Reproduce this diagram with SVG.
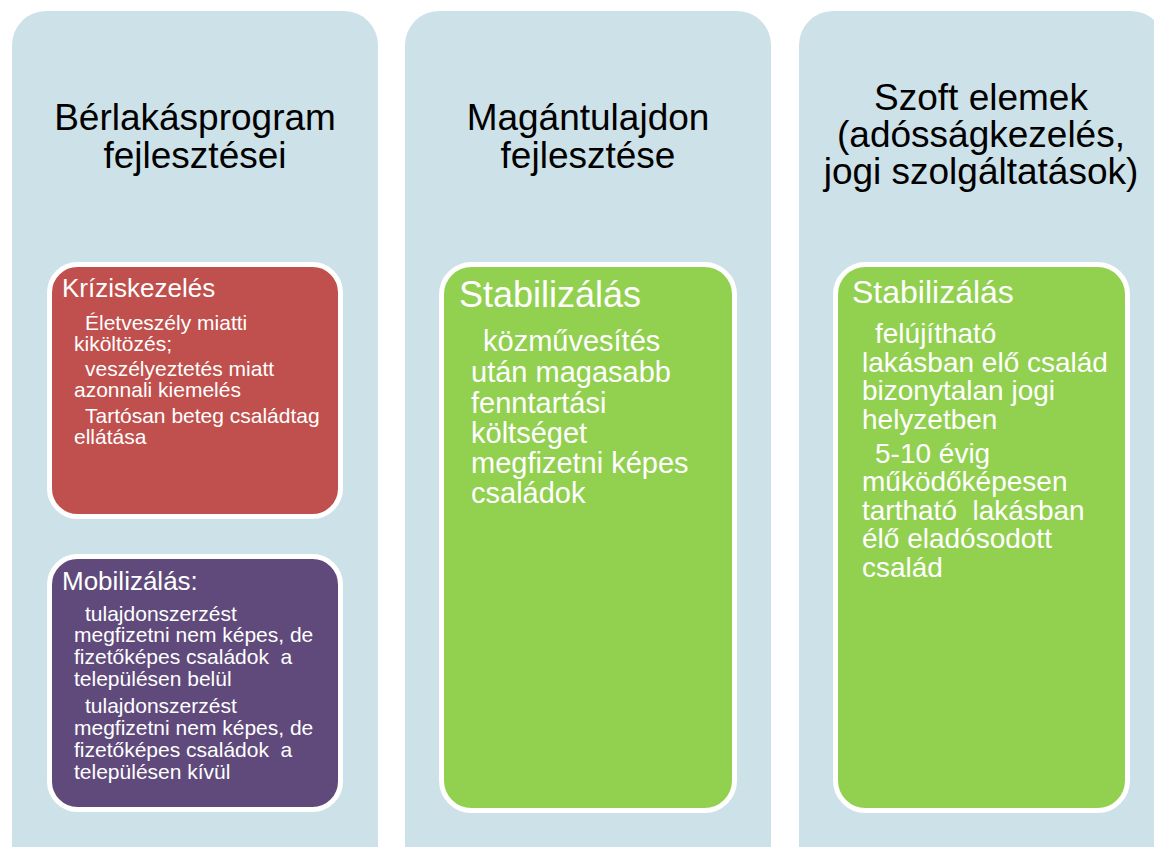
<svg xmlns="http://www.w3.org/2000/svg" width="1154" height="847" viewBox="0 0 1154 847">
<style>
.col{fill:#CDE1E8;}
.sub{stroke:#FFFFFF;stroke-width:5;}
.red{fill:#C0504D;}
.pur{fill:#604A7B;}
.grn{fill:#92D050;}
text{font-family:"Liberation Sans",Arial,sans-serif;}
.title{font-size:37px;fill:#000000;text-anchor:middle;}
.hd1{font-size:26px;fill:#FFFFFF;}
.b1{font-size:21px;fill:#FFFFFF;}
.hd2{font-size:36px;fill:#FFFFFF;}
.b2{font-size:29px;fill:#FFFFFF;}
.hd3{font-size:32px;fill:#FFFFFF;}
.b3{font-size:28px;fill:#FFFFFF;}
</style>
<rect width="1154" height="847" fill="#FFFFFF"/>
<g id="col1">
<rect class="col" x="12" y="11" width="366" height="880" rx="34"/>
<text class="title" x="195" y="130">Bérlakásprogram</text>
<text class="title" x="195" y="168">fejlesztései</text>
</g>
<g id="col2">
<rect class="col" x="405" y="11" width="366" height="880" rx="34"/>
<text class="title" x="588" y="130">Magántulajdon</text>
<text class="title" x="588" y="168">fejlesztése</text>
</g>
<g id="col3">
<rect class="col" x="799" y="11" width="366" height="880" rx="34"/>
<text class="title" x="981" y="110">Szoft elemek</text>
<text class="title" x="981" y="147">(adósságkezelés,</text>
<text class="title" x="981" y="184">jogi szolgáltatások)</text>
</g>
<g id="krizis">
<rect class="sub red" x="49.5" y="264.5" width="291" height="252" rx="28"/>
<text class="hd1" x="62" y="297">Kríziskezelés</text>
<text class="b1" x="85" y="330">Életveszély miatti</text>
<text class="b1" x="74" y="351">kiköltözés;</text>
<text class="b1" x="85" y="376">veszélyeztetés miatt</text>
<text class="b1" x="74" y="397">azonnali kiemelés</text>
<text class="b1" x="85" y="423">Tartósan beteg családtag</text>
<text class="b1" x="74" y="444">ellátása</text>
</g>
<g id="mobil">
<rect class="sub pur" x="49.5" y="556.5" width="291" height="253" rx="28"/>
<text class="hd1" x="62" y="590">Mobilizálás:</text>
<text class="b1" x="85" y="621">tulajdonszerzést</text>
<text class="b1" x="74" y="642">megfizetni nem képes, de</text>
<text class="b1" x="74" y="664">fizetőképes családok&#160; a</text>
<text class="b1" x="74" y="686">településen belül</text>
<text class="b1" x="85" y="713">tulajdonszerzést</text>
<text class="b1" x="74" y="735">megfizetni nem képes, de</text>
<text class="b1" x="74" y="757">fizetőképes családok&#160; a</text>
<text class="b1" x="74" y="779">településen kívül</text>
</g>
<g id="stab2">
<rect class="sub grn" x="441.5" y="264.5" width="293" height="546" rx="30"/>
<text class="hd2" x="459" y="307">Stabilizálás</text>
<text class="b2" x="483" y="351">közművesítés</text>
<text class="b2" x="471" y="382">után magasabb</text>
<text class="b2" x="471" y="413">fenntartási</text>
<text class="b2" x="471" y="443">költséget</text>
<text class="b2" x="471" y="473">megfizetni képes</text>
<text class="b2" x="471" y="503">családok</text>
</g>
<g id="stab3">
<rect class="sub grn" x="835.5" y="264.5" width="292" height="546" rx="30"/>
<text class="hd3" x="852" y="303">Stabilizálás</text>
<text class="b3" x="875" y="343">felújítható</text>
<text class="b3" x="862" y="372">lakásban elő család</text>
<text class="b3" x="862" y="400">bizonytalan jogi</text>
<text class="b3" x="862" y="429">helyzetben</text>
<text class="b3" x="875" y="463">5-10 évig</text>
<text class="b3" x="862" y="491">működőképesen</text>
<text class="b3" x="862" y="520">tartható&#160; lakásban</text>
<text class="b3" x="862" y="548">élő eladósodott</text>
<text class="b3" x="862" y="577">család</text>
</g>
<g id="connectors"></g>
</svg>
